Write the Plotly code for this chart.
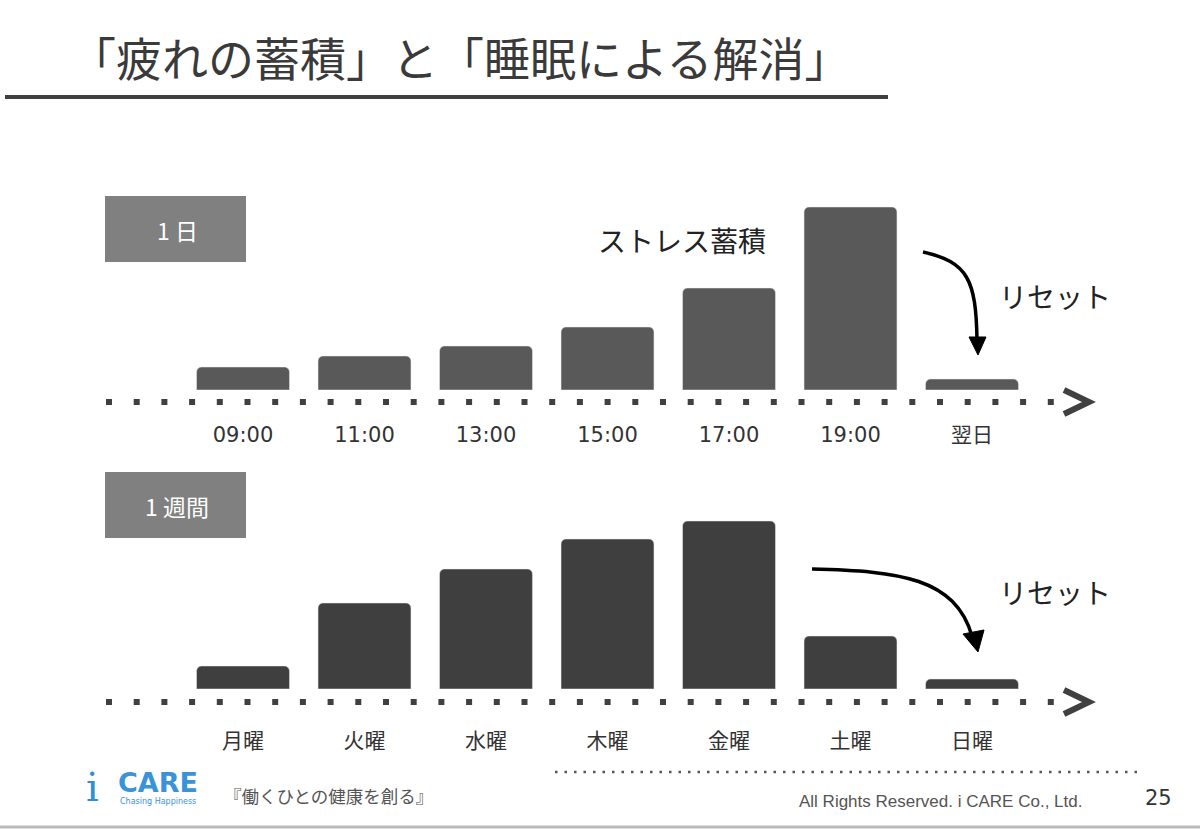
import plotly.graph_objects as go

W, H = 1200, 829

# ---- data ----
day_labels = ["09:00", "11:00", "13:00", "15:00", "17:00", "19:00", "翌日"]
day_values = [23, 34, 44, 63, 102, 183, 11]
week_labels = ["月曜", "火曜", "水曜", "木曜", "金曜", "土曜", "日曜"]
week_values = [23, 86, 120, 150, 168, 53, 10]

title_text = "「疲れの蓄積」と「睡眠による解消」"


def X(px):
    return px / W


def Y(py):
    return 1 - py / H


def path(points, close=False):
    s = "M " + " L ".join(f"{X(x):.5f},{Y(y):.5f}" for x, y in points)
    return s + (" Z" if close else "")


def cpath(start, c1, c2, end):
    return (f"M {X(start[0]):.5f},{Y(start[1]):.5f} C {X(c1[0]):.5f},{Y(c1[1]):.5f} "
            f"{X(c2[0]):.5f},{Y(c2[1]):.5f} {X(end[0]):.5f},{Y(end[1]):.5f}")


FONT = "Noto Sans CJK JP, sans-serif"
TICKFONT = "DejaVu Sans, Noto Sans CJK JP, sans-serif"

fig = go.Figure()
fig.add_trace(go.Bar(x=day_labels, y=day_values, marker=dict(color="#595959", cornerradius=5),
                     xaxis="x", yaxis="y", hoverinfo="skip"))
fig.add_trace(go.Bar(x=week_labels, y=week_values, marker=dict(color="#3f3f3f", cornerradius=5),
                     xaxis="x2", yaxis="y2", hoverinfo="skip"))

xdom = [X(182.25), X(1032.75)]
common_x = dict(showgrid=False, zeroline=False, showline=False, ticks="",
                tickfont=dict(family=TICKFONT, size=21, color="#333333"), range=[-0.5, 6.5],
                fixedrange=True)
common_y = dict(showgrid=False, zeroline=False, showline=False, showticklabels=False,
                range=[0, 200], fixedrange=True)

fig.update_layout(
    width=W, height=H,
    margin=dict(l=0, r=0, t=0, b=0),
    paper_bgcolor="white", plot_bgcolor="white",
    showlegend=False, bargap=0.235,
    xaxis=dict(domain=xdom, anchor="y", ticklabelstandoff=30, **common_x),
    yaxis=dict(domain=[Y(390), Y(190)], anchor="x", **common_y),
    xaxis2=dict(domain=xdom, anchor="y2", ticklabelstandoff=37, **common_x),
    yaxis2=dict(domain=[Y(689), Y(489)], anchor="x2", **common_y),
)

shapes = []
# title underline
shapes.append(dict(type="line", xref="paper", yref="paper", x0=X(5), x1=X(888), y0=Y(97), y1=Y(97),
                   line=dict(color="#404040", width=4)))
# label boxes
for y0, y1 in [(196, 262), (472, 538)]:
    shapes.append(dict(type="rect", xref="paper", yref="paper", x0=X(105), x1=X(246), y0=Y(y1), y1=Y(y0),
                       fillcolor="#808080", line=dict(width=0)))
# dotted baselines and chevrons
for yc in [402, 702]:
    shapes.append(dict(type="line", xref="paper", yref="paper", x0=X(106), x1=X(1056), y0=Y(yc), y1=Y(yc),
                       line=dict(color="#404040", width=6, dash="6px,21.7px")))
    shapes.append(dict(type="path", xref="paper", yref="paper",
                       path=path([(1064, yc - 12), (1089, yc), (1064, yc + 12)]),
                       line=dict(color="#404040", width=6)))
# top arrow
shapes.append(dict(type="path", xref="paper", yref="paper",
                   path=cpath((923, 252), (968, 262), (976, 280), (977, 340)),
                   line=dict(color="black", width=3.5)))
shapes.append(dict(type="path", xref="paper", yref="paper",
                   path=path([(969, 337), (986, 337), (978, 355)], close=True),
                   fillcolor="black", line=dict(color="black", width=1)))
# bottom arrow
shapes.append(dict(type="path", xref="paper", yref="paper",
                   path=cpath((812, 569), (900, 571), (955, 578), (972, 636)),
                   line=dict(color="black", width=3.5)))
shapes.append(dict(type="path", xref="paper", yref="paper",
                   path=path([(963, 634), (984, 630), (978, 652)], close=True),
                   fillcolor="black", line=dict(color="black", width=1)))
# footer dotted line
shapes.append(dict(type="line", xref="paper", yref="paper", x0=X(555), x1=X(1138), y0=Y(772), y1=Y(772),
                   line=dict(color="#555555", width=2.5, dash="2.5px,7px")))
# slide bottom edge
shapes.append(dict(type="line", xref="paper", yref="paper", x0=0, x1=1, y0=Y(827), y1=Y(827),
                   line=dict(color="#bbbbbb", width=3)))
fig.update_layout(shapes=shapes)

ann = []


def text(t, x, y, size, color="#333333", family=FONT, xanchor="center", yanchor="middle", **kw):
    ann.append(dict(text=t, x=X(x), y=Y(y), xref="paper", yref="paper", showarrow=False,
                    xanchor=xanchor, yanchor=yanchor,
                    font=dict(size=size, color=color, family=family), **kw))


text(title_text, 460, 56, 46, color="#3a3a3a")
text("1 日", 177, 230, 23, color="white")
text("1 週間", 177, 506, 23, color="white")
text("ストレス蓄積", 682, 240, 28, color="#222222")
text("リセット", 1055, 296, 28, color="#222222")
text("リセット", 1055, 592, 28, color="#222222")
# footer
text("i", 92, 787, 40, color="#2f8fd6", family="DejaVu Serif, serif")
text("<b>CARE</b>", 158, 782, 27, color="#3a93d8", family="DejaVu Sans, sans-serif")
text("Chasing Happiness", 158, 801, 8, color="#3a93d8", family="DejaVu Sans, sans-serif")
text("『働くひとの健康を創る』", 328, 795, 17.5, color="#555555")
text("All Rights Reserved. i CARE Co., Ltd.", 940, 801, 17, color="#555555",
     family="Liberation Sans, Arial, sans-serif")
text("25", 1158, 798, 21, color="#333333", family="DejaVu Sans, sans-serif")
fig.update_layout(annotations=ann)

fig.write_html("out.html")
